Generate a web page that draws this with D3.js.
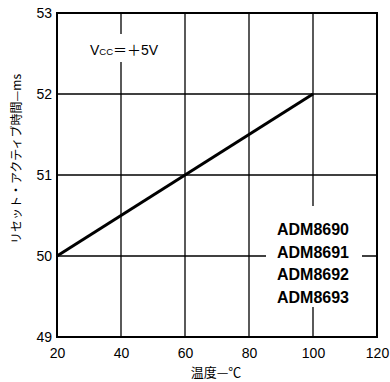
<!DOCTYPE html>
<html>
<head>
<meta charset="utf-8">
<script src="https://cdn.jsdelivr.net/npm/d3@7"></script>
<style>
  body { margin: 0; background: #fff; }
  text { font-family: "Liberation Sans", Arial, sans-serif; fill: #000; }
  .jp { font-family: "Noto Sans CJK JP", sans-serif; }
</style>
</head>
<body>
<div id="chart"></div>
<script>
// Data.
var temps = [20, 100];
var resetTimes = [50, 52];
var xTicks = [20, 40, 60, 80, 100, 120];
var yTicks = [49, 50, 51, 52, 53];
var partNames = ["ADM8690", "ADM8691", "ADM8692", "ADM8693"];
var xLabel = "温度—℃";
var yLabel = "リセット・アクティブ時間—ms";

var width = 390, height = 382;
var plotLeft = 57, plotRight = 377, plotTop = 13, plotBottom = 337;

var svg = d3.select("#chart").append("svg")
  .attr("width", width)
  .attr("height", height);

// 1. Scales
var xScale = d3.scaleLinear().domain([20, 120]).range([plotLeft, plotRight]);
var yScale = d3.scaleLinear().domain([49, 53]).range([plotBottom, plotTop]);

// 2. Grid lines
svg.append("g").selectAll("line").data(xTicks.slice(1, -1))
  .enter().append("line")
  .attr("x1", function (d) { return xScale(d); })
  .attr("x2", function (d) { return xScale(d); })
  .attr("y1", plotTop).attr("y2", plotBottom)
  .attr("stroke", "#000").attr("stroke-width", 1.3);
svg.append("g").selectAll("line").data(yTicks.slice(1, -1))
  .enter().append("line")
  .attr("y1", function (d) { return yScale(d); })
  .attr("y2", function (d) { return yScale(d); })
  .attr("x1", plotLeft).attr("x2", plotRight)
  .attr("stroke", "#000").attr("stroke-width", 1.3);

// 3. Annotations (white backing breaks the grid lines)
svg.append("rect")
  .attr("x", xScale(40) - 4).attr("y", 34).attr("width", 8).attr("height", 28)
  .attr("fill", "#fff");
var vcc = svg.append("text")
  .attr("x", 90).attr("y", 55)
  .attr("font-size", 14);
vcc.append("tspan").text("V");
vcc.append("tspan").attr("font-size", 9.5).text("CC");
vcc.append("tspan").attr("class", "jp").attr("font-size", 14).text("＝＋");
vcc.append("tspan").text("5V");

svg.append("rect")
  .attr("x", 266).attr("y", 206).attr("width", 96).attr("height", 101)
  .attr("fill", "#fff");
svg.append("g").selectAll("text").data(partNames)
  .enter().append("text")
  .attr("x", 313).attr("text-anchor", "middle")
  .attr("y", function (d, i) { return 235 + i * 22.5; })
  .attr("font-size", 16).attr("font-weight", "bold")
  .text(function (d) { return d; });

// 4. Data line
var line = d3.line()
  .x(function (d) { return xScale(d[0]); })
  .y(function (d) { return yScale(d[1]); });
svg.append("path")
  .datum(d3.zip(temps, resetTimes))
  .attr("d", line)
  .attr("fill", "none")
  .attr("stroke", "#000")
  .attr("stroke-width", 3);

// 5. Frame
svg.append("rect")
  .attr("x", plotLeft).attr("y", plotTop)
  .attr("width", plotRight - plotLeft).attr("height", plotBottom - plotTop)
  .attr("fill", "none").attr("stroke", "#000").attr("stroke-width", 2);

// 6. Axes (labels only, grid carries the ticks)
var xAxis = d3.axisBottom(xScale).tickValues(xTicks).tickFormat(d3.format("d"))
  .tickSize(0).tickPadding(11);
svg.append("g")
  .attr("transform", "translate(0," + plotBottom + ")")
  .call(xAxis)
  .call(function (g) { g.select(".domain").remove(); })
  .selectAll("text").attr("font-size", 14).attr("font-family", null);
var yAxis = d3.axisLeft(yScale).tickValues(yTicks).tickFormat(d3.format("d"))
  .tickSize(0).tickPadding(5);
svg.append("g")
  .attr("transform", "translate(" + plotLeft + ",0)")
  .call(yAxis)
  .call(function (g) { g.select(".domain").remove(); })
  .selectAll("text").attr("font-size", 14).attr("font-family", null);

// 7. Axis titles
svg.append("text")
  .attr("class", "jp")
  .attr("x", 216).attr("y", 377)
  .attr("text-anchor", "middle")
  .attr("font-size", 13)
  .text(xLabel);
svg.append("text")
  .attr("class", "jp")
  .attr("transform", "translate(21,159)rotate(-90)")
  .attr("text-anchor", "middle")
  .attr("font-size", 12)
  .text(yLabel);
</script>
</body>
</html>
